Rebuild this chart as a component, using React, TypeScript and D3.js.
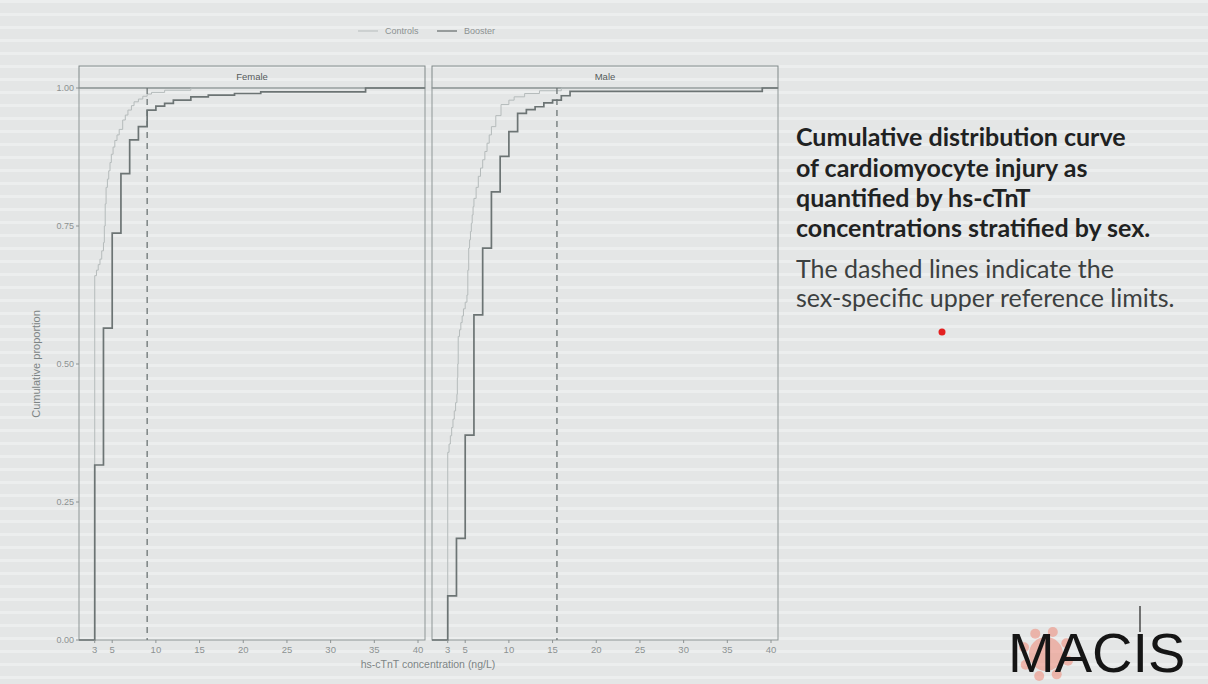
import React from "react";
import * as d3 from "d3";

// panels, groups and reference limits
const panels = ["Female", "Male"];
const groups = ["Controls", "Booster"];
const refLimits = [9, 15.5];

// ECDF steps (x in ng/L, cumulative proportion after the step)
const femaleBoosterX = [3, 4, 5, 6, 7, 8, 9, 10, 11, 12, 14, 16, 19, 22, 34];
const femaleBoosterP = [0.317, 0.565, 0.737, 0.845, 0.906, 0.93, 0.96, 0.967, 0.972, 0.978, 0.984, 0.987, 0.99, 0.993, 1];
const femaleControlsX = [3, 3.2, 3.4, 3.6, 3.8, 4, 4.1, 4.2, 4.3, 4.45, 4.6, 4.75, 4.9, 5.1, 5.3, 5.55, 5.8, 6.2, 6.5, 6.8, 7.2, 7.5, 8, 8.5, 9, 9.5, 11, 14];
const femaleControlsP = [0.66, 0.67, 0.68, 0.69, 0.705, 0.72, 0.75, 0.79, 0.82, 0.835, 0.85, 0.865, 0.88, 0.893, 0.905, 0.915, 0.925, 0.942, 0.951, 0.96, 0.968, 0.975, 0.98, 0.985, 0.989, 0.992, 0.996, 1];
const maleBoosterX = [3, 4, 5, 6, 7, 8, 9, 10, 11, 12, 13, 14, 15, 16, 17, 39];
const maleBoosterP = [0.08, 0.184, 0.371, 0.589, 0.71, 0.812, 0.876, 0.921, 0.954, 0.961, 0.966, 0.973, 0.978, 0.986, 0.994, 1];
const maleControlsX = [3, 3.15, 3.3, 3.45, 3.6, 3.75, 3.9, 4.05, 4.1, 4.15, 4.2, 4.35, 4.5, 4.65, 4.8, 5, 5.2, 5.3, 5.4, 5.5, 5.6, 5.7, 5.8, 5.9, 6, 6.25, 6.5, 6.75, 7, 7.25, 7.5, 7.75, 8, 8.5, 9.1, 10, 10.6, 11.8, 13.5, 16];
const maleControlsP = [0.34, 0.355, 0.37, 0.385, 0.4, 0.415, 0.43, 0.445, 0.475, 0.5, 0.55, 0.562, 0.575, 0.587, 0.6, 0.612, 0.625, 0.67, 0.71, 0.725, 0.74, 0.755, 0.77, 0.785, 0.8, 0.82, 0.84, 0.855, 0.87, 0.885, 0.9, 0.915, 0.93, 0.95, 0.97, 0.978, 0.984, 0.99, 0.995, 1];

const xTicks = [3, 5, 10, 15, 20, 25, 30, 35, 40];
const yTicks = [0, 0.25, 0.5, 0.75, 1];

const seriesData = {
  Female: { Controls: [femaleControlsX, femaleControlsP], Booster: [femaleBoosterX, femaleBoosterP] },
  Male: { Controls: [maleControlsX, maleControlsP], Booster: [maleBoosterX, maleBoosterP] },
};

const W = 1208;
const H = 684;
const font = "'Liberation Sans', Arial, sans-serif";
const grey = "#8c9292";
const colors = { Controls: "#b5bbbb", Booster: "#6c7474" };
const widths = { Controls: 1, Booster: 1.7 };

const panelTop = 88;
const panelBottom = 640;
const stripTop = 66;
const panelX = [[79, 425], [432, 778]];
const xDomain = [1.2, 40.8];

const y = d3.scaleLinear().domain([0, 1]).range([panelBottom, panelTop]);

const App = () => {
  const fmt = d3.format(".2f");
  return (
    <svg width={W} height={H} style={{ position: "absolute", left: 0, top: 0 }}>
      <defs>
        <pattern id="scan" width={8} height={13} patternUnits="userSpaceOnUse">
          <rect width={8} height={13} fill="#e4e6e6" />
          <rect y={0} width={8} height={3} fill="#eceeee" />
        </pattern>
      </defs>
      <rect width={W} height={H} fill="url(#scan)" />

      {/* legend */}
      <g fontFamily={font} fontSize={9} fill={grey}>
        {groups.map((g, i) => {
          const x0 = 358 + i * 79;
          return (
            <g key={g}>
              <line x1={x0} x2={x0 + 20} y1={31} y2={31} stroke={colors[g]} strokeWidth={g === "Booster" ? 1.3 : 1} />
              <text x={x0 + 27} y={34}>{g}</text>
            </g>
          );
        })}
      </g>

      {panels.map((p, pi) => {
        const [l, r] = panelX[pi];
        const x = d3.scaleLinear().domain(xDomain).range([l, r]);
        const line = d3
          .line<[number, number]>()
          .x((d) => x(d[0]))
          .y((d) => y(d[1]))
          .curve(d3.curveStepAfter);
        return (
          <g key={p}>
            <rect x={l} y={stripTop} width={r - l} height={panelTop - stripTop} fill="none" stroke="#7f8787" strokeWidth={1} />
            <text x={(l + r) / 2} y={80} textAnchor="middle" fontFamily={font} fontSize={9.5} fill="#555b5b">{p}</text>
            <rect x={l} y={panelTop} width={r - l} height={panelBottom - panelTop} fill="none" stroke="#8e9696" strokeWidth={1} />

            {groups.map((g) => {
              const [xs, ps] = seriesData[p][g];
              const pts: [number, number][] = [[xDomain[0], 0]];
              xs.forEach((v, i) => pts.push([v, ps[i]]));
              pts.push([xDomain[1], 1]);
              return (
                <path key={g} d={line(pts) || ""} fill="none" stroke={colors[g]} strokeWidth={widths[g]} />
              );
            })}

            <line x1={x(refLimits[pi])} x2={x(refLimits[pi])} y1={panelTop} y2={panelBottom} stroke="#6c7474" strokeWidth={1.3} strokeDasharray="6,5" />

            {/* x axis */}
            <g fontFamily={font} fontSize={9.5} fill={grey}>
              {xTicks.map((t) => (
                <g key={t}>
                  <line x1={x(t)} x2={x(t)} y1={panelBottom} y2={panelBottom + 3} stroke={grey} />
                  <text x={x(t)} y={panelBottom + 13} textAnchor="middle">{t}</text>
                </g>
              ))}
            </g>

            {pi === 0 && (
              <g fontFamily={font} fontSize={9} fill={grey}>
                {yTicks.map((t) => (
                  <g key={t}>
                    <line x1={l - 3} x2={l} y1={y(t)} y2={y(t)} stroke={grey} />
                    <text x={l - 5} y={y(t) + 3} textAnchor="end">{fmt(t)}</text>
                  </g>
                ))}
              </g>
            )}
          </g>
        );
      })}

      <text x={428} y={668} textAnchor="middle" fontFamily={font} fontSize={10.5} fill="#7c8484">hs-cTnT concentration (ng/L)</text>
      <text transform={`translate(40,${(panelTop + panelBottom) / 2}) rotate(-90)`} textAnchor="middle" fontFamily={font} fontSize={11} fill="#7c8484">Cumulative proportion</text>

      {/* caption */}
      <g fontFamily="Lato, 'Open Sans', sans-serif" fontSize={25}>
        <text x={796} y={146} fontWeight="bold" fill="#1f2222">Cumulative distribution curve</text>
        <text x={796} y={177} fontWeight="bold" fill="#1f2222">of cardiomyocyte injury as</text>
        <text x={796} y={207} fontWeight="bold" fill="#1f2222">quantified by hs-cTnT</text>
        <text x={796} y={237} fontWeight="bold" fill="#1f2222">concentrations stratified by sex.</text>
        <text x={796} y={278} fill="#3c4040">The dashed lines indicate the</text>
        <text x={796} y={307} fill="#3c4040">sex-specific upper reference limits.</text>
      </g>
      <circle cx={942} cy={332} r={3.5} fill="#e32020" />

      {/* logo */}
      <g opacity={0.55} fill="#f08a78">
        <circle cx={1046} cy={654} r={17} />
        {d3.range(8).map((i) => {
          const a = (i / 8) * Math.PI * 2 + 0.3;
          return <circle key={i} cx={1046 + Math.cos(a) * 23} cy={654 + Math.sin(a) * 23} r={5} />;
        })}
      </g>
      <line x1={1140} x2={1140} y1={606} y2={632} stroke="#222" strokeWidth={1.2} />
      <text x={1008} y={672} fontFamily={font} fontSize={56} fill="#151515">MACIS</text>
    </svg>
  );
};

export default App;
